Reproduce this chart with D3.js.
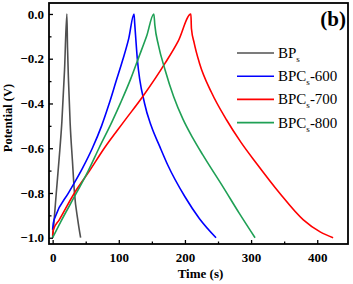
<!DOCTYPE html>
<html>
<head>
<meta charset="utf-8">
<script src="https://cdn.jsdelivr.net/npm/d3@7"></script>
<style>
  body { margin: 0; background: #fff; }
  svg { display: block; }
</style>
</head>
<body>
<div id="chart"></div>
<script>
// galvanostatic charge/discharge curves
var bpsTime = [0, 2, 5.5, 10, 14, 18, 21.5, 22.5, 24, 26.5, 30, 33, 38, 42.3];
var bpsPot  = [-1.0, -0.93, -0.8, -0.64, -0.48, -0.25, 0, -0.15, -0.3, -0.49, -0.66, -0.8, -0.92, -1.0];

var b600Time = [0, 1, 4, 24, 45, 60, 74, 85, 96, 106, 115, 123, 124, 128, 139, 149, 162, 174, 200, 222, 247];
var b600Pot  = [-0.965, -0.935, -0.906, -0.8, -0.69, -0.6, -0.5, -0.405, -0.3, -0.205, -0.11, 0, -0.04, -0.2, -0.4, -0.5, -0.593, -0.675, -0.817, -0.915, -1.0];

var b700Time = [0, 1, 10, 33, 56, 78, 108, 136, 170, 190, 209, 209.8, 214, 222, 240, 263, 285, 308, 343, 379, 405, 424];
var b700Pot  = [-0.99, -0.965, -0.92, -0.8, -0.7, -0.6, -0.48, -0.37, -0.22, -0.12, 0, -0.065, -0.13, -0.22, -0.35, -0.474, -0.575, -0.667, -0.8, -0.92, -0.975, -1.0];

var b800Time = [0, 12, 36, 54, 70, 90, 103, 118, 130, 142, 153, 154.5, 160, 170, 183, 197, 212, 227, 258, 282, 306];
var b800Pot  = [-1.0, -0.93, -0.8, -0.7, -0.6, -0.48, -0.395, -0.29, -0.195, -0.1, 0, -0.05, -0.14, -0.25, -0.37, -0.47, -0.555, -0.63, -0.775, -0.89, -1.0];

var seriesNames = ["BP", "BPC", "BPC", "BPC"];
var seriesSubs = ["s", "s", "s", "s"];
var seriesSuffix = ["", "-600", "-700", "-800"];
var seriesColors = ["#505050", "#0000ff", "#ff0000", "#1fa055"];

var xTicks = [0, 100, 200, 300, 400];
var xMinor = [50, 150, 250, 350];
var yTicks = [0, -0.2, -0.4, -0.6, -0.8, -1.0];
var yMinor = [-0.1, -0.3, -0.5, -0.7, -0.9];

(function () {
    var W = 353, H = 284;
    var mLeft = 49, mRight = 348, mTop = 3, mBottom = 244;
    var serif = "'Liberation Serif', 'Times New Roman', serif";

    var svg = d3.select("#chart").append("svg")
        .attr("width", W)
        .attr("height", H);

    var x = d3.scaleLinear().domain([-5.5, 446.5]).range([mLeft, mRight]);
    var y = d3.scaleLinear().domain([-1.028, 0.049]).range([mBottom, mTop]);

    var series = [
        { t: bpsTime, v: bpsPot },
        { t: b600Time, v: b600Pot },
        { t: b700Time, v: b700Pot },
        { t: b800Time, v: b800Pot }
    ];

    var line = d3.line()
        .x(function (d) { return x(d[0]); })
        .y(function (d) { return y(d[1]); })
        .curve(d3.curveMonotoneX);

    svg.append("defs").append("clipPath").attr("id", "clip")
        .append("rect")
        .attr("x", mLeft).attr("y", mTop)
        .attr("width", mRight - mLeft).attr("height", mBottom - mTop);

    var plot = svg.append("g").attr("clip-path", "url(#clip)");
    series.forEach(function (s, i) {
        var pts = s.t.map(function (t, j) { return [t, s.v[j]]; });
        plot.append("path")
            .datum(pts)
            .attr("d", line)
            .attr("fill", "none")
            .attr("stroke", seriesColors[i])
            .attr("stroke-width", 1.6)
            .attr("stroke-linejoin", "round");
    });

    // axes, ticks pointing inward
    svg.append("g")
        .attr("transform", "translate(0," + mBottom + ")")
        .call(d3.axisBottom(x).tickValues(xTicks).tickSize(-4).tickPadding(9).tickFormat(d3.format("d")));
    svg.append("g")
        .attr("transform", "translate(0," + mBottom + ")")
        .call(d3.axisBottom(x).tickValues(xMinor).tickSize(-2.5).tickFormat(""));

    svg.append("g")
        .attr("transform", "translate(" + mLeft + ",0)")
        .call(d3.axisLeft(y).tickValues(yTicks).tickSize(-4).tickPadding(5).tickFormat(d3.format(".1f")));
    svg.append("g")
        .attr("transform", "translate(" + mLeft + ",0)")
        .call(d3.axisLeft(y).tickValues(yMinor).tickSize(-2.5).tickFormat(""));

    svg.selectAll(".domain").remove();
    svg.selectAll(".tick line").attr("stroke", "#000").attr("stroke-width", 1.3);
    svg.selectAll(".tick text")
        .attr("fill", "#000")
        .style("font-family", serif)
        .style("font-weight", "bold")
        .style("font-size", "13px");

    // frame
    svg.append("rect")
        .attr("x", mLeft).attr("y", mTop)
        .attr("width", mRight - mLeft).attr("height", mBottom - mTop)
        .attr("fill", "none")
        .attr("stroke", "#000")
        .attr("stroke-width", 1.8);

    svg.append("text")
        .attr("x", (mLeft + mRight) / 2 + 2)
        .attr("y", 278)
        .attr("text-anchor", "middle")
        .style("font-family", serif)
        .style("font-weight", "bold")
        .style("font-size", "13px")
        .text("Time (s)");

    svg.append("text")
        .attr("transform", "translate(12,118) rotate(-90)")
        .attr("text-anchor", "middle")
        .style("font-family", serif)
        .style("font-weight", "bold")
        .style("font-size", "12.5px")
        .text("Potential (V)");

    svg.append("text")
        .attr("x", 346)
        .attr("y", 26)
        .attr("text-anchor", "end")
        .style("font-family", serif)
        .style("font-weight", "bold")
        .style("font-size", "21px")
        .text("(b)");

    // legend
    var legend = svg.append("g");
    seriesNames.forEach(function (name, i) {
        var ly = 53 + i * 23.2;
        legend.append("line")
            .attr("x1", 237).attr("x2", 274)
            .attr("y1", ly).attr("y2", ly)
            .attr("stroke", seriesColors[i])
            .attr("stroke-width", 1.6);
        var txt = legend.append("text")
            .attr("x", 278)
            .attr("y", ly + 5)
            .style("font-family", serif)
            .style("font-size", "15px");
        txt.append("tspan").text(name);
        txt.append("tspan").attr("dy", 4).style("font-size", "9px").text(seriesSubs[i]);
        txt.append("tspan").attr("dy", -4).text(seriesSuffix[i]);
    });
})();
</script>
</body>
</html>
